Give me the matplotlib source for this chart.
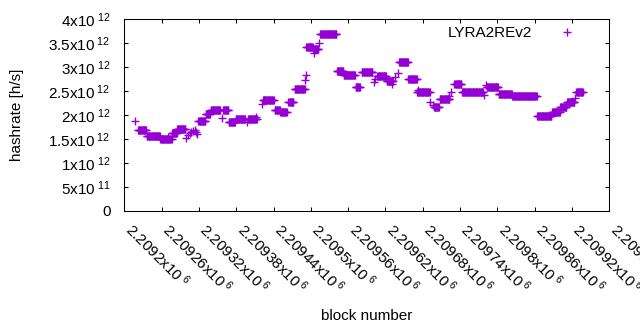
import numpy as np
import matplotlib
matplotlib.use("Agg")
import matplotlib.pyplot as plt
import matplotlib.transforms as mtransforms
from matplotlib.ticker import FixedLocator, FuncFormatter

# ---- data ----
# runs of consecutive blocks sharing the same hashrate estimate (units: 1e12 h/s)
run_start = [2209222, 2209236, 2209258, 2209277, 2209285, 2209319, 2209331, 2209339,
             2209359, 2209368, 2209379, 2209399, 2209423, 2209442, 2209451, 2209464,
             2209474, 2209493, 2209504, 2209515, 2209542, 2209553, 2209572, 2209582,
             2209607, 2209622, 2209642, 2209657, 2209671, 2209698, 2209707, 2209731,
             2209743, 2209783, 2209802, 2209824, 2209864, 2209888, 2209901, 2209912,
             2209927]
run_end = [2209235, 2209257, 2209276, 2209284, 2209298, 2209330, 2209338, 2209354,
           2209367, 2209378, 2209394, 2209413, 2209440, 2209450, 2209461, 2209472,
           2209490, 2209503, 2209512, 2209541, 2209552, 2209571, 2209579, 2209599,
           2209621, 2209632, 2209656, 2209670, 2209691, 2209706, 2209723, 2209742,
           2209777, 2209801, 2209823, 2209863, 2209887, 2209900, 2209911, 2209924,
           2209937]
run_value = [1.68, 1.57, 1.50, 1.62, 1.72, 1.88, 2.02, 2.10,
             2.10, 1.85, 1.93, 1.91, 2.31, 2.10, 2.06, 2.28,
             2.54, 3.42, 3.37, 3.70, 2.92, 2.83, 2.58, 2.89,
             2.81, 2.71, 3.10, 2.76, 2.48, 2.16, 2.33, 2.66,
             2.48, 2.59, 2.45, 2.40, 1.99, 2.07, 2.16, 2.28,
             2.48]

# isolated blocks
single_block = [2209218, 2209270, 2209299, 2209302, 2209305, 2209308, 2209311, 2209313,
                2209315, 2209317, 2209357, 2209397, 2209412, 2209421, 2209491, 2209492,
                2209505, 2209513, 2209601, 2209603, 2209630, 2209635, 2209640, 2209672,
                2209692, 2209696, 2209722, 2209726, 2209778, 2209782, 2209925]
single_value = [1.87, 1.55, 1.53, 1.58, 1.62, 1.64, 1.66, 1.70,
                1.64, 1.61, 1.95, 1.86, 1.96, 2.24, 2.73, 2.83,
                3.29, 3.51, 2.70, 2.75, 2.66, 2.80, 2.87, 2.52,
                2.28, 2.21, 2.40, 2.49, 2.42, 2.63, 2.35]

x_ticks = [2209200 + 60 * i for i in range(14)]
y_ticks = [0, 0.5e12, 1e12, 1.5e12, 2e12, 2.5e12, 3e12, 3.5e12, 4e12]

# ---- build point series ----
blocks = []
values = []
for s, e, v in zip(run_start, run_end, run_value):
    for b in range(s, e + 1):
        blocks.append(b)
        values.append(v * 1e12)
for b, v in zip(single_block, single_value):
    blocks.append(b)
    values.append(v * 1e12)

plt.rcParams['font.family'] = ['Liberation Sans', 'DejaVu Sans']
plt.rcParams['mathtext.fontset'] = 'custom'
plt.rcParams['mathtext.rm'] = 'Liberation Sans'
plt.rcParams['mathtext.it'] = 'Liberation Sans'
plt.rcParams['mathtext.default'] = 'regular'
FS = 11

fig = plt.figure(figsize=(6.4, 3.3), dpi=100)
ax = fig.add_axes([124.3 / 640, (330 - 211) / 330, (609.3 - 124.3) / 640, (211 - 19.3) / 330])

ax.plot(blocks, values, linestyle='none', marker='+', color='#9400D3',
        markersize=5.6, markeredgewidth=1.0, label='LYRA2REv2')

ax.set_xlim(2209200, 2209980)
ax.set_ylim(0, 4e12)

def yfmt(v, pos):
    if v == 0:
        return '0'
    exp = int(np.floor(np.log10(v) + 1e-9))
    mant = v / 10 ** exp
    return r'$%gx10^{\ %d}$' % (round(mant, 6), exp)

def xfmt(v, pos):
    exp = int(np.floor(np.log10(v) + 1e-9))
    mant = v / 10 ** exp
    return r'$%gx10^{\ %d}$' % (round(mant, 6), exp)

ax.xaxis.set_major_locator(FixedLocator(x_ticks))
ax.yaxis.set_major_locator(FixedLocator(y_ticks))
ax.xaxis.set_major_formatter(FuncFormatter(xfmt))
ax.yaxis.set_major_formatter(FuncFormatter(yfmt))

ax.tick_params(direction='in', length=3, width=0.75, top=True, right=True,
               labelsize=FS, colors='black')
ax.tick_params(axis='y', pad=10)
ax.tick_params(axis='x', pad=9)
offset = mtransforms.ScaledTranslation(4 / 100, -3 / 100, fig.dpi_scale_trans)
for lab in ax.get_xticklabels():
    lab.set_rotation(-45)
    lab.set_ha('left')
    lab.set_va('center')
    lab.set_rotation_mode('anchor')
    lab.set_transform(lab.get_transform() + offset)

for sp in ax.spines.values():
    sp.set_linewidth(0.75)

ax.set_xlabel('block number', fontsize=FS)
ax.set_ylabel('hashrate [h/s]', fontsize=FS)
ax.xaxis.set_label_coords(0.5, -(316 - 211) / (211 - 19.3), transform=ax.transAxes)
ax.xaxis.label.set_va('center')
ax.yaxis.set_label_coords(-(124.3 - 16.7) / (609.3 - 124.3), 0.5)
ax.yaxis.label.set_va('center')

ax.legend(loc='upper right', frameon=False, markerfirst=False, numpoints=1,
          fontsize=FS, handlelength=2.0, handletextpad=1.3,
          borderaxespad=0.0, borderpad=0.0,
          bbox_to_anchor=((582.6 - 124.3) / 485.0, 0.965))

fig.savefig('out.png', dpi=100)
